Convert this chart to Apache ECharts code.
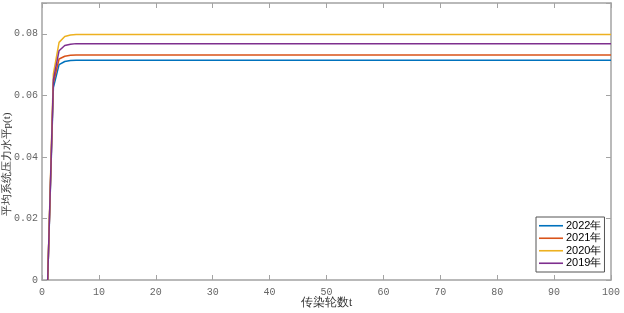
<!DOCTYPE html>
<html><head><meta charset="utf-8">
<script src="https://cdn.jsdelivr.net/npm/echarts@6/dist/echarts.min.js"></script>
<style>html,body{margin:0;padding:0;background:#fff}#c{width:624px;height:313px}</style>
</head><body><div id="c"></div>
<script>
const seriesNames = ['2022年', '2021年', '2020年', '2019年'];
const colors = ['#0072BD', '#D95319', '#EDB120', '#7E2F8E'];
const tValues = [1, 2, 3, 4, 5, 6, 8, 100];
const v2022 = [0, 0.0625, 0.0700, 0.0710, 0.0713, 0.0714, 0.0714, 0.0714];
const v2021 = [0, 0.0640, 0.0718, 0.0727, 0.0730, 0.0731, 0.0731, 0.0731];
const v2020 = [0, 0.0670, 0.0772, 0.0791, 0.0796, 0.0798, 0.0798, 0.0798];
const v2019 = [0, 0.0650, 0.0745, 0.0762, 0.0766, 0.0768, 0.0768, 0.0768];
const xTicks = [0, 10, 20, 30, 40, 50, 60, 70, 80, 90, 100];
const yTicks = [0, 0.02, 0.04, 0.06, 0.08];
const allValues = [v2022, v2021, v2020, v2019];

const axisLineStyle = {color: '#a3a3a3', width: 1.5};
const tickStyle = {show: true, inside: true, length: 5, lineStyle: {color: '#a3a3a3', width: 1}};
const labelFont = {fontFamily: '"Liberation Mono", monospace', fontSize: 10, color: '#666'};

const chart = echarts.init(document.getElementById('c'), null, {renderer: 'canvas'});
chart.setOption({
  animation: false,
  backgroundColor: '#fff',
  grid: {left: 42, right: 13, top: 3, bottom: 33, containLabel: false, outerBoundsMode: 'none'},
  legend: {
    data: seriesNames,
    orient: 'vertical',
    left: 536, top: 217,
    icon: 'rect',
    itemWidth: 24, itemHeight: 1.6,
    itemGap: 1,
    padding: [3, 3, 3, 3],
    backgroundColor: '#fff',
    borderColor: '#555', borderWidth: 1,
    textStyle: {fontFamily: '"Liberation Sans", Arial, sans-serif', fontSize: 11, color: '#000', lineHeight: 11.5, padding: [0, 0, 0, -2]}
  },
  xAxis: [{
    type: 'value', min: 0, max: 100, interval: 10, position: 'bottom',
    name: '传染轮数t', nameLocation: 'middle', nameGap: 17, nameMoveOverlap: false,
    nameTextStyle: {fontFamily: 'serif', fontSize: 11.5, color: '#333'},
    axisLine: {show: true, onZero: false, lineStyle: axisLineStyle},
    axisTick: tickStyle,
    axisLabel: Object.assign({margin: 7, formatter: v => xTicks.includes(v) ? String(v) : ''}, labelFont),
    splitLine: {show: false}
  }, {
    type: 'value', min: 0, max: 100, interval: 10, position: 'top',
    axisLine: {show: true, onZero: false, lineStyle: axisLineStyle},
    axisTick: tickStyle, axisLabel: {show: false}, splitLine: {show: false}
  }],
  yAxis: [{
    type: 'value', min: 0, max: 0.09, interval: 0.02, position: 'left',
    name: '平均系统压力水平p(t)', nameLocation: 'middle', nameGap: 29, nameMoveOverlap: false,
    nameTextStyle: {fontFamily: 'serif', fontSize: 11, color: '#333', padding: [0, 46, 0, 0]},
    axisLine: {show: true, onZero: false, lineStyle: axisLineStyle},
    axisTick: tickStyle,
    axisLabel: Object.assign({margin: 4, formatter: v => {
      const m = yTicks.find(t => Math.abs(t - v) < 1e-9);
      return m === undefined ? '' : (m === 0 ? '0' : m.toFixed(2));
    }}, labelFont),
    splitLine: {show: false}
  }, {
    type: 'value', min: 0, max: 0.09, interval: 0.02, position: 'right',
    axisLine: {show: true, onZero: false, lineStyle: axisLineStyle},
    axisTick: tickStyle, axisLabel: {show: false}, splitLine: {show: false}
  }],
  series: seriesNames.map((n, i) => ({
    name: n, type: 'line', xAxisIndex: 0, yAxisIndex: 0,
    showSymbol: false, symbol: 'none', smooth: false,
    lineStyle: {color: colors[i], width: 1.5},
    itemStyle: {color: colors[i]},
    data: tValues.map((t, k) => [t, allValues[i][k]])
  }))
});
</script></body></html>
